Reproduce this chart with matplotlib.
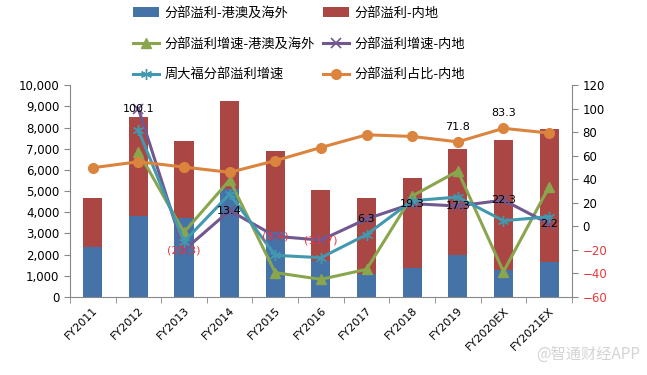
import numpy as np
import matplotlib.pyplot as plt
from matplotlib.ticker import FuncFormatter, MultipleLocator

plt.rcParams['font.family'] = ['Noto Sans CJK SC', 'DejaVu Sans']

years = ['FY2011', 'FY2012', 'FY2013', 'FY2014', 'FY2015', 'FY2016',
         'FY2017', 'FY2018', 'FY2019', 'FY2020EX', 'FY2021EX']
# segment profit (HK$ m)
profit_hk = [2370, 3830, 3710, 5090, 3050, 1700, 1090, 1370, 1980, 1270, 1670]
profit_total = [4650, 8480, 7370, 9260, 6900, 5050, 4660, 5630, 7000, 7390, 7930]
profit_mainland = [t - h for t, h in zip(profit_total, profit_hk)]
# growth (%)
growth_hk = [np.nan, 63.4, -5.0, 39.4, -39.3, -45.0, -36.5, 25.8, 47.0, -38.5, 33.7]
growth_mainland = [np.nan, 100.1, -20.3, 13.4, -8.4, -11.7, 6.3, 19.3, 17.3, 22.3, 2.2]
growth_ctf = [np.nan, 81.8, -13.0, 27.5, -24.6, -26.6, -7.0, 21.8, 24.9, 4.8, 8.2]
share_mainland = [49.8, 54.9, 50.4, 45.9, 55.8, 67.0, 77.8, 76.4, 71.8, 83.3, 79.3]
share_labels = {8: '71.8', 9: '83.3'}

x = np.arange(len(years))

fig = plt.figure(figsize=(6.47, 3.75), dpi=100)
ax = fig.add_axes([0.108, 0.208, 0.776, 0.565])
ax2 = ax.twinx()

b1 = ax.bar(x, profit_hk, width=0.42, color='#4572A7', label='分部溢利-港澳及海外')
b2 = ax.bar(x, profit_mainland, width=0.42, bottom=profit_hk, color='#AA4643',
            label='分部溢利-内地')

l1, = ax2.plot(x, growth_hk, color='#89A54E', lw=2.2, marker='^', ms=7,
               label='分部溢利增速-港澳及海外')
l2, = ax2.plot(x, growth_mainland, color='#71588F', lw=2.2, marker='x', ms=7,
               mew=1.2, label='分部溢利增速-内地')
l3, = ax2.plot(x, growth_ctf, color='#4198AF', lw=2.2, marker=(6, 2, 0), ms=8,
               mew=1.0, label='周大福分部溢利增速')
l4, = ax2.plot(x, share_mainland, color='#DB843D', lw=2.2, marker='o', ms=7,
               label='分部溢利占比-内地')

# data labels for mainland growth
for i, v in enumerate(growth_mainland):
    if np.isnan(v):
        continue
    if v < 0:
        txt, col = '(%.1f)' % abs(v), '#E8383D'
    else:
        txt, col = '%.1f' % v, 'black'
    ax2.annotate(txt, (x[i], v), ha='center', va='center', fontsize=8,
                 color=col, family='DejaVu Sans')
for i, txt in share_labels.items():
    ax2.annotate(txt, (x[i], share_mainland[i]), xytext=(0, 11),
                 textcoords='offset points', ha='center', va='center',
                 fontsize=8, family='DejaVu Sans')

ax.set_xlim(-0.5, len(years) - 0.5)
ax.set_ylim(0, 10000)
ax.yaxis.set_major_locator(MultipleLocator(1000))
ax.yaxis.set_major_formatter(FuncFormatter(lambda v, p: '{:,.0f}'.format(v)))
ax2.set_ylim(-60, 120)
ax2.yaxis.set_major_locator(MultipleLocator(20))

ax.set_xticks(x)
ax.set_xticklabels(years, rotation=45, ha='right', rotation_mode='anchor',
                   fontsize=8, family='DejaVu Sans')
ax.set_xticks(np.arange(-0.5, len(years)), minor=True)
ax.tick_params(axis='x', which='major', length=0, pad=6)
ax.tick_params(axis='x', which='minor', length=4, color='#888888')
ax.tick_params(axis='y', labelsize=8.5, length=4, color='#888888')
ax2.tick_params(axis='y', labelsize=8.5, length=4, color='#888888')
for t in ax.get_yticklabels():
    t.set_family('DejaVu Sans')
for t in ax2.get_yticklabels():
    t.set_family('DejaVu Sans')
    try:
        if float(t.get_text().replace('\u2212', '-')) < 0:
            t.set_color('#E8383D')
    except ValueError:
        pass

for a in (ax, ax2):
    a.spines['top'].set_visible(False)
    for s in ('left', 'right', 'bottom'):
        a.spines[s].set_color('#888888')
ax.spines['right'].set_visible(False)
ax2.spines['left'].set_visible(False)
ax2.spines['bottom'].set_visible(False)

# legend is filled column by column, so order gives rows: blue/red, green/purple, cyan/orange
fig.legend(handles=[b1, l1, l3, b2, l2, l4], ncol=2, loc='upper left',
           bbox_to_anchor=(0.195, 1.0), frameon=False, fontsize=9.5,
           handlelength=2.0, columnspacing=0.6, handletextpad=0.4,
           labelspacing=1.35, borderaxespad=0.1)

fig.text(0.99, 0.055, '@智通财经APP', ha='right', va='center', fontsize=11,
         color='#d4d4d4')

fig.savefig('out.png', dpi=100)
